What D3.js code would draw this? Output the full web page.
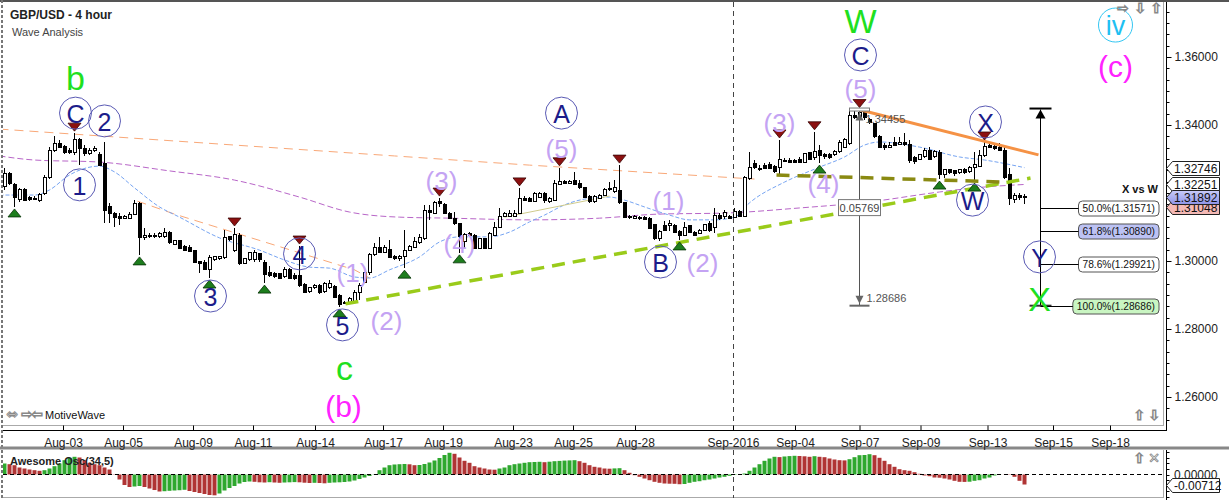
<!DOCTYPE html>
<html>
<head>
<meta charset="utf-8">
<script src="https://cdn.jsdelivr.net/npm/d3@7"></script>
<style>
  body { margin: 0; background: #fff; }
  svg { display: block; font-family: "Liberation Sans", Arial, sans-serif; }
</style>
</head>
<body>
<script>
// Chart size
const w = 1229;
const h = 500;

// 4 hour candles
const opens = [1.3218,1.3256,1.3224,1.3182,1.3209,1.3188,1.3185,1.3179,1.3200,1.3247,
  1.3324,1.3347,1.3338,1.3326,1.3318,1.3356,1.3332,1.3315,1.3324,1.3312,
  1.3288,1.3159,1.3141,1.3132,1.3126,1.3126,1.3138,1.3168,1.3068,1.3076,
  1.3071,1.3071,1.3071,1.3085,1.3050,1.3059,1.3044,1.3041,1.3032,1.3000,
  1.2997,1.2976,1.3003,1.3006,1.3009,1.3071,1.3032,1.3076,1.2994,1.3003,
  1.3003,1.3021,1.2997,1.2965,1.2962,1.2962,1.2953,1.2974,1.2956,1.2956,
  1.2932,1.2909,1.2921,1.2929,1.2909,1.2921,1.2926,1.2900,1.2876,1.2879,
  1.2879,1.2906,1.2938,1.2965,1.3018,1.3041,1.3026,1.3035,1.3012,1.3006,
  1.3012,1.3032,1.3041,1.3053,1.3065,1.3150,1.3141,1.3174,1.3165,1.3141,
  1.3126,1.3109,1.3056,1.3082,1.3076,1.3038,1.3065,1.3038,1.3076,1.3100,
  1.3132,1.3132,1.3132,1.3141,1.3185,1.3185,1.3174,1.3188,1.3200,1.3174,
  1.3179,1.3226,1.3235,1.3229,1.3238,1.3229,1.3215,1.3191,1.3174,1.3185,
  1.3194,1.3209,1.3203,1.3206,1.3171,1.3132,1.3126,1.3129,1.3129,1.3126,
  1.3106,1.3065,1.3103,1.3103,1.3103,1.3088,1.3076,1.3103,1.3085,1.3082,
  1.3091,1.3109,1.3100,1.3135,1.3132,1.3132,1.3129,1.3147,1.3132,1.3244,
  1.3288,1.3268,1.3282,1.3285,1.3279,1.3274,1.3297,1.3297,1.3297,1.3300,
  1.3291,1.3318,1.3303,1.3324,1.3312,1.3312,1.3312,1.3321,1.3335,1.3347,
  1.3429,1.3426,1.3438,1.3415,1.3403,1.3365,1.3341,1.3335,1.3350,1.3344,
  1.3350,1.3344,1.3303,1.3300,1.3306,1.3326,1.3306,1.3318,1.3253,1.3268,
  1.3265,1.3259,1.3268,1.3262,1.3274,1.3279,1.3309,1.3341,1.3338,1.3335,
  1.3326,1.3253,1.3182,1.3194,1.3191];
const highs = [1.3274,1.3262,1.3229,1.3215,1.3215,1.3191,1.3191,1.3200,1.3253,1.3335,
  1.3368,1.3356,1.3341,1.3332,1.3376,1.3362,1.3341,1.3332,1.3338,1.3321,
  1.3350,1.3171,1.3144,1.3141,1.3135,1.3144,1.3179,1.3174,1.3097,1.3082,
  1.3082,1.3085,1.3097,1.3088,1.3062,1.3062,1.3047,1.3047,1.3032,1.3000,
  1.3003,1.3018,1.3015,1.3015,1.3091,1.3074,1.3097,1.3082,1.3009,1.3026,
  1.3032,1.3024,1.3003,1.2985,1.2968,1.2965,1.2982,1.2979,1.2965,1.3044,
  1.2935,1.2924,1.2932,1.2932,1.2938,1.2944,1.2929,1.2903,1.2882,1.2894,
  1.2915,1.2935,1.2968,1.3024,1.3053,1.3071,1.3047,1.3062,1.3018,1.3018,
  1.3091,1.3047,1.3071,1.3079,1.3165,1.3165,1.3176,1.3185,1.3171,1.3144,
  1.3144,1.3112,1.3082,1.3085,1.3079,1.3068,1.3068,1.3085,1.3115,1.3156,
  1.3144,1.3150,1.3150,1.3215,1.3191,1.3188,1.3203,1.3203,1.3203,1.3188,
  1.3238,1.3274,1.3238,1.3238,1.3262,1.3238,1.3218,1.3194,1.3194,1.3197,
  1.3215,1.3232,1.3238,1.3282,1.3174,1.3135,1.3135,1.3132,1.3132,1.3129,
  1.3109,1.3091,1.3118,1.3121,1.3109,1.3091,1.3115,1.3106,1.3088,1.3094,
  1.3109,1.3118,1.3156,1.3141,1.3150,1.3135,1.3156,1.3150,1.3250,1.3321,
  1.3297,1.3282,1.3288,1.3291,1.3282,1.3356,1.3303,1.3303,1.3300,1.3306,
  1.3318,1.3321,1.3380,1.3341,1.3318,1.3318,1.3326,1.3356,1.3362,1.3444,
  1.3444,1.34455,1.3444,1.3421,1.3406,1.3371,1.3347,1.3350,1.3365,1.3365,
  1.3376,1.3356,1.3309,1.3315,1.3332,1.3335,1.3326,1.3326,1.3271,1.3271,
  1.3268,1.3271,1.3274,1.3279,1.3321,1.3326,1.3350,1.3350,1.3344,1.3347,
  1.3335,1.3274,1.3200,1.3200,1.3197];
const lows = [1.3209,1.3224,1.3159,1.3174,1.3176,1.3176,1.3182,1.3174,1.3194,1.3241,
  1.3321,1.3332,1.3315,1.3315,1.3312,1.3282,1.3309,1.3312,1.3321,1.3279,
  1.3112,1.3112,1.3100,1.3106,1.3124,1.3124,1.3135,1.3018,1.3062,1.3068,
  1.3068,1.3068,1.3068,1.3050,1.3047,1.3035,1.3029,1.3026,1.2994,1.2965,
  1.2974,1.2950,1.3000,1.3003,1.3006,1.3059,1.3026,1.2988,1.2994,1.3000,
  1.2997,1.2997,1.2935,1.2953,1.2950,1.2947,1.2950,1.2947,1.2944,1.2924,
  1.2906,1.2906,1.2918,1.2903,1.2906,1.2918,1.2894,1.2865,1.2874,1.2876,
  1.2876,1.2885,1.2935,1.2959,1.3015,1.3026,1.3024,1.3009,1.3003,1.3000,
  1.2979,1.3029,1.3038,1.3050,1.3062,1.3121,1.3138,1.3159,1.3138,1.3124,
  1.3106,1.3024,1.3035,1.3074,1.3035,1.3035,1.3035,1.3035,1.3074,1.3097,
  1.3129,1.3129,1.3129,1.3138,1.3176,1.3174,1.3174,1.3185,1.3171,1.3171,
  1.3176,1.3226,1.3226,1.3226,1.3224,1.3212,1.3185,1.3171,1.3171,1.3182,
  1.3191,1.3206,1.3200,1.3168,1.3126,1.3124,1.3124,1.3121,1.3121,1.3094,
  1.3062,1.3059,1.3091,1.3088,1.3082,1.3062,1.3074,1.3082,1.3074,1.3079,
  1.3088,1.3085,1.3082,1.3121,1.3124,1.3124,1.3126,1.3129,1.3129,1.3238,
  1.3271,1.3265,1.3274,1.3274,1.3259,1.3253,1.3291,1.3288,1.3288,1.3288,
  1.3288,1.3297,1.3297,1.3288,1.3300,1.3300,1.3309,1.3318,1.3332,1.3341,
  1.3418,1.3421,1.3415,1.3403,1.3362,1.3335,1.3326,1.3335,1.3338,1.3341,
  1.3338,1.3288,1.3285,1.3297,1.3303,1.3297,1.3303,1.3241,1.3244,1.3256,
  1.3250,1.3256,1.3256,1.3259,1.3235,1.3276,1.3306,1.3332,1.3326,1.3324,
  1.3241,1.3165,1.3171,1.3179,1.3168];
const closes = [1.3256,1.3229,1.3188,1.3209,1.3179,1.3182,1.3184,1.3197,1.3247,1.3326,
  1.3347,1.3335,1.3318,1.3318,1.3356,1.3332,1.3315,1.3326,1.3332,1.3282,
  1.3150,1.3141,1.3129,1.3126,1.3132,1.3138,1.3168,1.3068,1.3076,1.3071,
  1.3076,1.3082,1.3085,1.3053,1.3059,1.3038,1.3032,1.3029,1.2997,1.2994,
  1.2976,1.3009,1.3012,1.3012,1.3068,1.3062,1.3079,1.2994,1.3006,1.3024,
  1.3024,1.3003,1.2959,1.2956,1.2953,1.2950,1.2974,1.2950,1.2950,1.2929,
  1.2906,1.2921,1.2929,1.2906,1.2935,1.2935,1.2894,1.2871,1.2879,1.2891,
  1.2906,1.2929,1.2965,1.3018,1.3041,1.3026,1.3041,1.3009,1.3006,1.3012,
  1.3032,1.3044,1.3056,1.3068,1.3150,1.3144,1.3171,1.3168,1.3141,1.3126,
  1.3109,1.3071,1.3079,1.3076,1.3038,1.3065,1.3038,1.3082,1.3100,1.3132,
  1.3141,1.3141,1.3141,1.3185,1.3179,1.3176,1.3200,1.3200,1.3179,1.3185,
  1.3229,1.3235,1.3229,1.3235,1.3226,1.3215,1.3188,1.3176,1.3191,1.3194,
  1.3209,1.3212,1.3215,1.3171,1.3129,1.3129,1.3132,1.3124,1.3121,1.3097,
  1.3065,1.3088,1.3091,1.3109,1.3085,1.3076,1.3100,1.3085,1.3076,1.3091,
  1.3106,1.3091,1.3135,1.3126,1.3144,1.3126,1.3147,1.3132,1.3247,1.3274,
  1.3274,1.3271,1.3271,1.3271,1.3262,1.3300,1.3294,1.3291,1.3291,1.3291,
  1.3315,1.3300,1.3321,1.3309,1.3306,1.3303,1.3321,1.3350,1.3356,1.3429,
  1.3421,1.3438,1.3421,1.3406,1.3365,1.3335,1.3335,1.3341,1.3341,1.3350,
  1.3344,1.3297,1.3294,1.3312,1.3326,1.3300,1.3321,1.3253,1.3268,1.3259,
  1.3256,1.3268,1.3259,1.3276,1.3285,1.3309,1.3338,1.3335,1.3332,1.3326,
  1.3247,1.3185,1.3194,1.3188,1.3189];

// Awesome Oscillator (34,5), one bar per candle
const aoValues = [0.00783,0.00733,0.00662,0.00498,0.00427,0.00356,0.00306,0.00263,0.00306,0.00427,
  0.00591,0.00783,0.01018,0.01189,0.0126,0.0121,0.01018,0.00833,0.00733,0.00662,
  0.00498,0.00356,0.00021,-0.00356,-0.00748,-0.0089,-0.00854,-0.00819,-0.0089,-0.00997,
  -0.01104,-0.0121,-0.01189,-0.01161,-0.01139,-0.01118,-0.01089,-0.01175,-0.01246,-0.01317,
  -0.01388,-0.0146,-0.01481,-0.01353,-0.01139,-0.00961,-0.00819,-0.00641,-0.00534,-0.00498,
  -0.0052,-0.00555,-0.0057,-0.00548,-0.0057,-0.00591,-0.0057,-0.00555,-0.00541,-0.00555,
  -0.00584,-0.00605,-0.00591,-0.00605,-0.00627,-0.00591,-0.0057,-0.00555,-0.00534,-0.00498,
  -0.00427,-0.0032,-0.00214,-0.00107,-0.00021,0.00306,0.00498,0.00662,0.00712,0.00733,
  0.00748,0.00726,0.00662,0.00676,0.00748,0.00854,0.00997,0.01175,0.01388,0.01545,
  0.01474,0.0121,0.00975,0.00833,0.00591,0.00498,0.00427,0.00356,0.00342,0.00427,
  0.00498,0.00662,0.00733,0.00783,0.00833,0.00876,0.0089,0.00904,0.00876,0.00911,
  0.00947,0.00968,0.0099,0.01004,0.01018,0.00947,0.00833,0.00662,0.00548,0.00498,
  0.00427,0.00413,0.00434,0.00449,0.00306,0.00121,-0.0005,-0.00164,-0.00285,-0.00406,
  -0.0052,-0.00591,-0.00641,-0.00655,-0.00662,-0.00691,-0.00676,-0.00591,-0.0052,-0.00477,
  -0.00406,-0.00356,-0.00285,-0.00214,-0.00164,-0.00093,-0.00036,0.00014,0.00071,0.00263,
  0.00498,0.00733,0.00975,0.01139,0.0126,0.01239,0.01282,0.0131,0.01331,0.01317,
  0.01296,0.0126,0.01303,0.0126,0.01232,0.01139,0.01068,0.01018,0.01004,0.01089,
  0.01232,0.01374,0.01388,0.01445,0.01374,0.01189,0.00975,0.00733,0.00548,0.00377,
  0.00306,0.00263,0.00164,0.0005,-0.00071,-0.00121,-0.00214,-0.00228,-0.00285,-0.00356,
  -0.00449,-0.0052,-0.00527,-0.00513,-0.00449,-0.00406,-0.00285,-0.00214,-0.00071,0.00014,
  0.00007,-0.00021,-0.00164,-0.00449,-0.00712];

// Indicator lines as [candle index, price]
const blueMa = [[-1,1.3194],[6,1.3194],[9,1.3209],[13,1.3253],[19,1.3279],[22,1.3262],[26,1.3215],
  [31,1.3159],[35,1.3129],[43,1.3068],[51,1.3032],[56,1.3003],[61,1.2982],[65,1.2979],[70,1.2953],
  [73,1.2950],[77,1.2974],[83,1.3012],[87,1.3056],[91,1.3071],[97,1.3071],[101,1.3085],[105,1.3115],
  [108,1.3135],[112,1.3165],[116,1.3182],[121,1.3188],[124,1.3179],[128,1.3159],[133,1.3135],
  [137,1.3121],[142,1.3121],[146,1.3129],[149,1.3171],[156,1.3232],[163,1.3276],[168,1.3306],
  [172,1.3341],[175,1.3350],[183,1.3335],[191,1.3306],[196,1.3297],[204,1.32746]];
const purpleMa = [[-1,1.3309],[6,1.3297],[19,1.3291],[33,1.3265],[46,1.3238],[59,1.3188],[69,1.3144],
  [79,1.3129],[89,1.3126],[105,1.3121],[119,1.3126],[131,1.3138],[144,1.3141],[159,1.3156],
  [173,1.3174],[187,1.3203],[194,1.3215],[204,1.32251]];
const orangeUpper = [[-1,1.3388],[78,1.3309],[105,1.3282],[150,1.3241]];
const orangeLower = [[26.6,1.3176],[34,1.3138],[70,1.2974],[73,1.2950]];
const khakiLine = [[100,1.3129],[121,1.3191]];

// Trend lines drawn on the chart
const orangeTrend = [[170.8,1.34455],[206.8,1.3312]];
const greenTrend = [[68.2,1.2874],[205.2,1.3244]];
const oliveTrend = [[154.4,1.3253],[200.2,1.3232]];

// Swing markers (candle indexes)
const swingHighs = [14,46,59,87,103,111,123,155,162,171,196];
const swingLows = [2,27,41,52,67,80,91,135,163,187,194];

// Wave labels
const labelText  = ["b","C","2","1","3","4","5","(1)","(2)","c","(b)","(3)","(4)","(5)","A","(1)","B","(2)","(3)","(4)","W","C","(5)","X","W","iv","(c)","Y","X"];
const labelIdx   = [14.2,14.2,20,15,41.2,59,67.6,69.6,76.4,68,67.8,87.4,91,111.4,111.4,132.8,131.2,139.6,155,163.8,171.2,171.2,171.2,196.2,193.6,222.2,222.2,207,207];
const labelPrice = [1.3541,1.3435,1.3412,1.3224,1.2897,1.3021,1.2812,1.2968,1.2826,1.2688,1.2574,1.3238,1.3053,1.3332,1.3435,1.3179,1.2997,1.2997,1.3409,1.3229,1.3709,1.3606,1.3509,1.3409,1.3179,1.3694,1.3574,1.3012,1.2891];
const labelKind  = ["green","circle","circle","circle","circle","circle","circle","minor","minor","green","major","minor","minor","minor","circle","minor","circle","minor","minor","minor","green","circle","minor","circle","circle","cyan","major","circle","green"];

// Date axis
const dateTicks = ["Aug-03","Aug-05","Aug-09","Aug-11","Aug-14","Aug-17","Aug-19","Aug-23","Aug-25","Aug-28","Sep-2016","Sep-04","Sep-07","Sep-09","Sep-13","Sep-15","Sep-18"];
const dateTickIdx = [11.7,23.7,37.7,49.7,62.1,75.7,87.7,101.7,113.7,126.1,145.7,158.1,171,183.2,196.6,209.7,221.1];
const priceTicks = [1.26,1.28,1.30,1.32,1.34,1.36];

// Fibonacci "X vs W"
const fibPct = ["50.0%","61.8%","78.6%","100.0%"];
const fibPrice = [1.31571,1.30890,1.29921,1.28686];
const fibTop = 1.34455;
const fibIdx = 207;

// Measure tool
const measureIdx = 171;
const measureFrom = 1.34455;
const measureTo = 1.28686;

// Price tags on the axis (drawing order, bottom first)
const tagPrice = [1.31048,1.32746,1.32251,1.31892];
const aoLast = -0.00712;

const svg = d3.select("body").append("svg").attr("width", w).attr("height", h);

const x = d3.scaleLinear().domain([0, 231]).range([4.5, 1159.5]);
const y = d3.scaleLinear().domain([1.26, 1.36]).range([397, 57]);
const yo = d3.scaleLinear().domain([-0.02, 0.02]).range([474.5 + 28.1, 474.5 - 28.1]);

const defs = svg.append("defs");
defs.append("clipPath").attr("id", "plotClip").append("rect")
  .attr("x", 3).attr("y", 1).attr("width", 1160).attr("height", 424);
defs.append("clipPath").attr("id", "oscClip").append("rect")
  .attr("x", 3).attr("y", 450).attr("width", 1160).attr("height", 47);
const gr = defs.append("linearGradient").attr("id", "blueTag").attr("x1", 0).attr("y1", 0).attr("x2", 0).attr("y2", 1);
gr.append("stop").attr("offset", "0%").attr("stop-color", "#c9ccfa");
gr.append("stop").attr("offset", "100%").attr("stop-color", "#8e93e6");

// ----- frame -----
svg.append("line").attr("x1", 0).attr("x2", w).attr("y1", 1).attr("y2", 1).attr("stroke", "#555").attr("stroke-width", 2);
svg.append("line").attr("x1", 2).attr("x2", 2).attr("y1", 0).attr("y2", h)
  .attr("stroke", "#777").attr("stroke-width", 2).attr("stroke-dasharray", "3,2");
svg.append("line").attr("x1", 1163.5).attr("x2", 1163.5).attr("y1", 2).attr("y2", 425).attr("stroke", "#aaa");
svg.append("line").attr("x1", 1163.5).attr("x2", 1163.5).attr("y1", 450).attr("y2", 498).attr("stroke", "#aaa");
svg.append("line").attr("x1", 3).attr("x2", 1164).attr("y1", 425.5).attr("y2", 425.5).attr("stroke", "#aaa");
svg.append("line").attr("x1", 3).attr("x2", 1164).attr("y1", 497.5).attr("y2", 497.5).attr("stroke", "#aaa");
svg.append("line").attr("x1", 0).attr("x2", w).attr("y1", 448).attr("y2", 448).attr("stroke", "#888").attr("stroke-width", 3);
svg.append("line").attr("x1", 3).attr("x2", 1167).attr("y1", 430.5).attr("y2", 430.5).attr("stroke", "#000");
svg.append("line").attr("x1", 1166.5).attr("x2", 1166.5).attr("y1", 2).attr("y2", 431).attr("stroke", "#000");
svg.append("line").attr("x1", 1166.5).attr("x2", 1166.5).attr("y1", 450).attr("y2", h).attr("stroke", "#000");

// ----- date axis -----
const xAxis = d3.axisBottom(x).tickValues(dateTickIdx).tickFormat((d, i) => dateTicks[i])
  .tickSizeInner(-5).tickSizeOuter(0).tickPadding(8);
const gx = svg.append("g").attr("transform", "translate(0,430.5)").call(xAxis);
gx.select(".domain").remove();
gx.selectAll("text").attr("font-size", 12).attr("fill", "#222").attr("font-family", "Liberation Sans, Arial, sans-serif");
gx.selectAll("line").attr("stroke", "#000");

// ----- price axis -----
const yAxis = d3.axisRight(y).tickValues(priceTicks).tickFormat(d3.format(".5f")).tickSize(5).tickPadding(3);
const gy = svg.append("g").attr("transform", "translate(1166.5,0)").call(yAxis);
gy.select(".domain").remove();
gy.selectAll("text").attr("font-size", 12).attr("fill", "#222").attr("font-family", "Liberation Sans, Arial, sans-serif");
const minor = d3.range(1.25, 1.3801, 0.02 / 6).filter(v => y(v) > 3 && y(v) < 425);
svg.append("g").selectAll("line").data(minor).join("line")
  .attr("x1", 1166.5).attr("x2", 1169.5)
  .attr("y1", d => Math.round(y(d)) + 0.5).attr("y2", d => Math.round(y(d)) + 0.5).attr("stroke", "#000");
const minorO = d3.range(-0.02, 0.0201, 0.004).filter(v => yo(v) > 451 && yo(v) < 498);
svg.append("g").selectAll("line").data(minorO).join("line")
  .attr("x1", 1166.5).attr("x2", 1169.5)
  .attr("y1", d => Math.round(yo(d)) + 0.5).attr("y2", d => Math.round(yo(d)) + 0.5).attr("stroke", "#000");

// ----- main plot -----
const plot = svg.append("g").attr("clip-path", "url(#plotClip)");

// month separator
const sepX = Math.round(x(dateTickIdx[10])) + 0.5;
svg.append("line").attr("x1", sepX).attr("x2", sepX).attr("y1", 2).attr("y2", 425)
  .attr("stroke", "#444").attr("stroke-dasharray", "5,4");
svg.append("line").attr("x1", sepX).attr("x2", sepX).attr("y1", 450).attr("y2", 498)
  .attr("stroke", "#444").attr("stroke-dasharray", "5,4");

const line = d3.line().x(d => x(d[0])).y(d => y(d[1]));
const smooth = d3.line().x(d => x(d[0])).y(d => y(d[1])).curve(d3.curveMonotoneX);

plot.append("path").attr("d", line(orangeUpper)).attr("fill", "none").attr("stroke", "#f9a878").attr("stroke-dasharray", "9,6");
plot.append("path").attr("d", line(orangeLower)).attr("fill", "none").attr("stroke", "#f9a878").attr("stroke-dasharray", "9,6");
plot.append("path").attr("d", smooth(purpleMa)).attr("fill", "none").attr("stroke", "#b866c8").attr("stroke-dasharray", "6,3");
plot.append("path").attr("d", smooth(blueMa)).attr("fill", "none").attr("stroke", "#76a4f2").attr("stroke-dasharray", "4,2");
plot.append("path").attr("d", line(khakiLine)).attr("fill", "none").attr("stroke", "#cfcb8c");

// candles
const candles = closes.map((c, i) => ({ i, o: opens[i], h: highs[i], l: lows[i], c }));
const cg = plot.append("g").attr("shape-rendering", "crispEdges");
cg.selectAll("line").data(candles).join("line")
  .attr("x1", d => x(d.i)).attr("x2", d => x(d.i))
  .attr("y1", d => y(d.h)).attr("y2", d => y(d.l))
  .attr("stroke", "#000");
cg.selectAll("rect").data(candles).join("rect")
  .attr("x", d => x(d.i) - 1.5).attr("width", 3)
  .attr("y", d => y(Math.max(d.o, d.c)))
  .attr("height", d => Math.max(1, Math.abs(y(d.o) - y(d.c))))
  .attr("fill", d => d.c >= d.o ? "#fff" : "#000")
  .attr("stroke", "#000");

// trend lines
plot.append("path").attr("d", line(greenTrend)).attr("stroke", "#9acb1a").attr("stroke-width", 3.5).attr("stroke-dasharray", "13,8").attr("fill", "none");
plot.append("path").attr("d", line(oliveTrend)).attr("stroke", "#8a8a12").attr("stroke-width", 3.5).attr("stroke-dasharray", "13,8").attr("fill", "none");
plot.append("path").attr("d", line(orangeTrend)).attr("stroke", "#f59245").attr("stroke-width", 3).attr("fill", "none");

// swing markers
plot.selectAll("path.hi").data(swingHighs).join("path").attr("class", "hi")
  .attr("d", i => { const cx = x(i), cy = y(highs[i]) - 2; return `M${cx - 6.5},${cy - 8}L${cx + 6.5},${cy - 8}L${cx},${cy}Z`; })
  .attr("fill", "#8c1010").attr("stroke", "#3a0505").attr("stroke-width", 0.8);
plot.selectAll("path.lo").data(swingLows).join("path").attr("class", "lo")
  .attr("d", i => { const cx = x(i), cy = y(lows[i]) + 2; return `M${cx - 6.5},${cy + 8}L${cx + 6.5},${cy + 8}L${cx},${cy}Z`; })
  .attr("fill", "#1d7d1d").attr("stroke", "#063206").attr("stroke-width", 0.8);

// measure tool
const mx = Math.round(x(measureIdx)) - 0.5;
const m1 = y(measureFrom), m2 = y(measureTo);
const mg = svg.append("g");
mg.append("line").attr("x1", mx).attr("x2", mx).attr("y1", m1 + 2).attr("y2", m2).attr("stroke", "#555");
mg.append("rect").attr("x", mx - 10).attr("y", m1 - 1.5).attr("width", 20).attr("height", 3).attr("fill", "#fff").attr("stroke", "#777");
mg.append("path").attr("d", `M${mx - 4},${m1 + 11}L${mx + 4},${m1 + 11}L${mx},${m1 + 3}Z`).attr("fill", "#666");
mg.append("path").attr("d", `M${mx - 4},${m2 - 10}L${mx + 4},${m2 - 10}L${mx},${m2 - 2}Z`).attr("fill", "#666");
mg.append("line").attr("x1", mx - 10).attr("x2", mx + 10).attr("y1", m2).attr("y2", m2).attr("stroke", "#666").attr("stroke-width", 2);
mg.append("text").attr("x", mx + 6).attr("y", m1 + 9).attr("font-size", 11).attr("fill", "#555").attr("dominant-baseline", "central").text(measureFrom.toFixed(5));
mg.append("text").attr("x", mx + 7).attr("y", m2 - 8).attr("font-size", 11).attr("fill", "#555").attr("dominant-baseline", "central").text(measureTo.toFixed(5));
const mLabel = (measureFrom - measureTo).toFixed(5);
const my = y((measureFrom + measureTo) / 2);
mg.append("rect").attr("x", mx - 21).attr("y", my - 8).attr("width", 42).attr("height", 16).attr("fill", "#fff").attr("stroke", "#777");
mg.append("text").attr("x", mx).attr("y", my).attr("text-anchor", "middle").attr("dominant-baseline", "central")
  .attr("font-size", 11).attr("fill", "#444").text(mLabel);

// fib tool
const fx = Math.round(x(fibIdx)) + 0.5;
const fTop = y(fibTop);
const fg = svg.append("g");
fg.append("line").attr("x1", fx).attr("x2", fx).attr("y1", fTop).attr("y2", y(fibPrice[3])).attr("stroke", "#000");
fg.append("line").attr("x1", fx - 11).attr("x2", fx + 11).attr("y1", fTop - 1).attr("y2", fTop - 1).attr("stroke", "#000").attr("stroke-width", 2);
fg.append("path").attr("d", `M${fx - 5},${fTop + 9}L${fx + 5},${fTop + 9}L${fx},${fTop}Z`).attr("fill", "#000");
fg.append("line").attr("x1", fx - 11).attr("x2", fx + 11).attr("y1", y(fibPrice[3])).attr("y2", y(fibPrice[3])).attr("stroke", "#333").attr("stroke-width", 2);
fg.append("text").attr("x", 1158).attr("y", 189).attr("text-anchor", "end").attr("dominant-baseline", "central")
  .attr("font-size", 11).attr("font-weight", "bold").attr("fill", "#111").text("X vs W");
const fibFill = ["#ffffff", "#bcc2f4", "#ffffff", "#c9f5c2"];
fibPrice.forEach((p, k) => {
  const ly = Math.round(y(p)) + 0.5;
  const t = fg.append("text").attr("x", 1155).attr("y", ly).attr("text-anchor", "end")
    .attr("dominant-baseline", "central").attr("font-size", 10.2).attr("fill", "#111")
    .text(fibPct[k] + "(" + p.toFixed(5) + ")");
  const tw = t.node().getComputedTextLength();
  const bx = 1155 - tw - 4;
  fg.insert("rect", "text").attr("x", bx).attr("y", ly - 7.5).attr("width", tw + 8).attr("height", 15)
    .attr("rx", 4).attr("fill", fibFill[k]).attr("stroke", "#555");
  fg.append("line").attr("x1", fx).attr("x2", bx).attr("y1", ly).attr("y2", ly).attr("stroke", "#000");
});

// wave labels
const lg = svg.append("g");
labelText.forEach((t, k) => {
  const cx = x(labelIdx[k]), cy = y(labelPrice[k]);
  const kind = labelKind[k];
  if (kind === "circle" || kind === "cyan") {
    lg.append("circle").attr("cx", cx).attr("cy", cy).attr("r", kind === "cyan" ? 17 : 16)
      .attr("fill", "none").attr("stroke", kind === "cyan" ? "#33c6f2" : "#5a5ab4");
  }
  const style = {
    circle: ["#1c1c8a", 25],
    cyan: ["#1ec0f2", 27],
    minor: ["#c4a3f3", 26],
    major: ["#ff22ff", 30],
    green: ["#1fe01f", 34]
  }[kind];
  lg.append("text").attr("x", cx).attr("y", cy + 1).attr("text-anchor", "middle").attr("dominant-baseline", "central")
    .attr("font-size", style[1]).attr("fill", style[0]).text(t);
});

// ----- oscillator -----
const og = svg.append("g").attr("clip-path", "url(#oscClip)");
og.selectAll("rect").data(aoValues).join("rect")
  .attr("x", (d, i) => x(i) - 2).attr("width", 4)
  .attr("y", d => Math.min(yo(d), yo(0)))
  .attr("height", d => Math.abs(yo(d) - yo(0)))
  .attr("fill", (d, i) => (i === 0 ? d >= aoValues[1] : d >= aoValues[i - 1]) ? "#2ea82e" : "#b03434");
svg.append("line").attr("x1", 3).attr("x2", 1163).attr("y1", yo(0)).attr("y2", yo(0))
  .attr("stroke", "#000").attr("stroke-dasharray", "4,3");
svg.append("text").attr("x", 10).attr("y", 465).attr("font-size", 11).attr("font-weight", "bold").attr("fill", "#222")
  .text("Awesome Osc(34,5)");
svg.append("text").attr("x", 1174).attr("y", yo(0)).attr("dominant-baseline", "central").attr("font-size", 12).attr("fill", "#222")
  .text(d3.format(".5f")(0));

// price tags, stacked so they do not cover each other completely
function tag(yy, txt, fill) {
  svg.append("path").attr("d", `M1166.5,${yy}L1172.5,${yy - 7}L1219.5,${yy - 7}L1219.5,${yy + 7}L1172.5,${yy + 7}Z`)
    .attr("fill", fill).attr("stroke", "#222");
  svg.append("text").attr("x", 1174).attr("y", yy + 0.5).attr("dominant-baseline", "central")
    .attr("font-size", 12).attr("fill", "#111").text(txt);
}
const tagFill = ["#f4b9b5", "#fff", "#fff", "url(#blueTag)"];
const stackOrder = [1, 2, 3, 0];
const tagY = [];
let prevY = 0;
stackOrder.forEach((k, n) => {
  tagY[k] = n === 3 ? prevY + 10 : Math.max(y(tagPrice[k]), prevY + 10);
  prevY = tagY[k];
});
tagPrice.forEach((p, k) => tag(Math.round(tagY[k]) + 0.5, p.toFixed(5), tagFill[k]));
tag(Math.round(yo(aoLast)) + 0.5, aoLast.toFixed(5), "#fff");

// ----- titles and icons -----
svg.append("text").attr("x", 10).attr("y", 19).attr("font-size", 12).attr("font-weight", "bold").attr("fill", "#222").text("GBP/USD - 4 hour");
svg.append("text").attr("x", 12).attr("y", 36).attr("font-size", 11).attr("fill", "#444").text("Wave Analysis");
svg.append("text").attr("x", 45).attr("y", 419).attr("font-size", 11).attr("fill", "#111").text("MotiveWave");
const icon = (xx, yy, t) => svg.append("text").attr("x", xx).attr("y", yy).attr("text-anchor", "middle")
  .attr("dominant-baseline", "central").attr("font-family", "DejaVu Sans").attr("font-size", 14)
  .attr("fill", "#fff").attr("stroke", "#888").attr("stroke-width", 0.8).text(t);
icon(12, 414, "⇔"); icon(27, 414, "⇨"); icon(37, 414, "⇦");
icon(1123, 8, "⇨"); icon(1140, 8, "⇩"); icon(1156, 8, "⇧");
icon(1139, 415, "⇧"); icon(1154, 415, "⇩");
icon(1139, 458, "⇧"); icon(1154, 458, "✕");
</script>
</body>
</html>
